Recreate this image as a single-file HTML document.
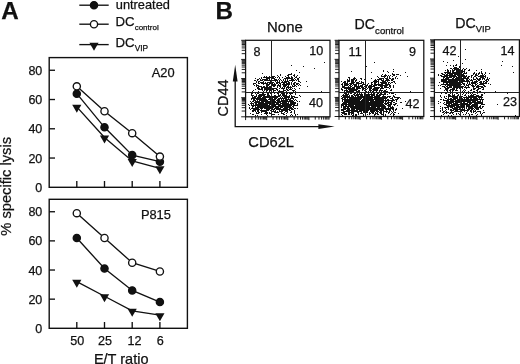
<!DOCTYPE html>
<html><head><meta charset="utf-8"><title>Figure</title>
<style>html,body{margin:0;padding:0;background:#fff;}body{width:520px;height:364px;overflow:hidden;}svg{display:block;}text{font-family:"Liberation Sans",sans-serif;fill:#111;stroke:#111;stroke-width:0.25px;}</style>
</head><body>
<svg width="520" height="364" viewBox="0 0 520 364">
<rect width="520" height="364" fill="#fff"/>
<text x="1.3" y="18.75" font-size="24.2" font-weight="bold" stroke-width="0.7">A</text>
<text x="215.6" y="18.7" font-size="24.2" font-weight="bold" stroke-width="0.7">B</text>
<line x1="79.3" y1="5.2" x2="108.7" y2="5.2" stroke="#111" stroke-width="1.35"/>
<circle cx="94.00" cy="5.20" r="3.6" fill="#111" stroke="#111" stroke-width="1.35"/>
<line x1="79.3" y1="24.2" x2="108.7" y2="24.2" stroke="#111" stroke-width="1.35"/>
<circle cx="94.00" cy="24.20" r="3.6" fill="#fff" stroke="#111" stroke-width="1.35"/>
<line x1="79.3" y1="44.6" x2="108.7" y2="44.6" stroke="#111" stroke-width="1.35"/>
<polygon points="89.40,42.63 98.60,42.63 94.00,50.63" fill="#111"/>
<text x="115.8" y="8.9" font-size="12.8">untreated</text>
<text x="115.6" y="26.4" font-size="13.2">DC<tspan font-size="8.0" dy="3.9">control</tspan></text>
<text x="115.6" y="46.8" font-size="13.2">DC<tspan font-size="8.4" dy="4.3">VIP</tspan></text>
<rect x="49.2" y="57.6" width="138.2" height="129.70000000000002" fill="none" stroke="#111" stroke-width="1.4"/>
<line x1="49.2" y1="158.04" x2="55.0" y2="158.04" stroke="#111" stroke-width="1.35"/>
<line x1="49.2" y1="128.78" x2="55.0" y2="128.78" stroke="#111" stroke-width="1.35"/>
<line x1="49.2" y1="99.52" x2="55.0" y2="99.52" stroke="#111" stroke-width="1.35"/>
<line x1="49.2" y1="70.26" x2="55.0" y2="70.26" stroke="#111" stroke-width="1.35"/>
<text x="42.3" y="191.80" font-size="12.5" text-anchor="end">0</text>
<text x="42.3" y="162.54" font-size="12.5" text-anchor="end">20</text>
<text x="42.3" y="133.28" font-size="12.5" text-anchor="end">40</text>
<text x="42.3" y="104.02" font-size="12.5" text-anchor="end">60</text>
<text x="42.3" y="74.76" font-size="12.5" text-anchor="end">80</text>
<line x1="76.8" y1="187.3" x2="76.8" y2="181.0" stroke="#111" stroke-width="1.35"/>
<line x1="104.5" y1="187.3" x2="104.5" y2="181.0" stroke="#111" stroke-width="1.35"/>
<line x1="132.2" y1="187.3" x2="132.2" y2="181.0" stroke="#111" stroke-width="1.35"/>
<line x1="159.9" y1="187.3" x2="159.9" y2="181.0" stroke="#111" stroke-width="1.35"/>
<text x="174.6" y="77.40" font-size="12.85" text-anchor="end">A20</text>
<polyline points="76.80,106.84 104.50,137.56 132.20,160.97 159.90,168.28" fill="none" stroke="#111" stroke-width="1.35"/>
<polyline points="76.80,93.67 104.50,127.32 132.20,155.11 159.90,161.70" fill="none" stroke="#111" stroke-width="1.35"/>
<polyline points="76.80,86.35 104.50,111.22 132.20,133.17 159.90,156.58" fill="none" stroke="#111" stroke-width="1.35"/>
<polygon points="72.20,104.87 81.40,104.87 76.80,112.87" fill="#111"/>
<polygon points="99.90,135.59 109.10,135.59 104.50,143.59" fill="#111"/>
<polygon points="127.60,159.00 136.80,159.00 132.20,167.00" fill="#111"/>
<polygon points="155.30,166.31 164.50,166.31 159.90,174.31" fill="#111"/>
<circle cx="76.80" cy="93.67" r="3.6" fill="#111" stroke="#111" stroke-width="1.35"/>
<circle cx="104.50" cy="127.32" r="3.6" fill="#111" stroke="#111" stroke-width="1.35"/>
<circle cx="132.20" cy="155.11" r="3.6" fill="#111" stroke="#111" stroke-width="1.35"/>
<circle cx="159.90" cy="161.70" r="3.6" fill="#111" stroke="#111" stroke-width="1.35"/>
<circle cx="76.80" cy="86.35" r="3.6" fill="#fff" stroke="#111" stroke-width="1.35"/>
<circle cx="104.50" cy="111.22" r="3.6" fill="#fff" stroke="#111" stroke-width="1.35"/>
<circle cx="132.20" cy="133.17" r="3.6" fill="#fff" stroke="#111" stroke-width="1.35"/>
<circle cx="159.90" cy="156.58" r="3.6" fill="#fff" stroke="#111" stroke-width="1.35"/>
<rect x="49.2" y="199.3" width="138.2" height="129.0" fill="none" stroke="#111" stroke-width="1.4"/>
<line x1="49.2" y1="299.16" x2="55.0" y2="299.16" stroke="#111" stroke-width="1.35"/>
<line x1="49.2" y1="270.02" x2="55.0" y2="270.02" stroke="#111" stroke-width="1.35"/>
<line x1="49.2" y1="240.88" x2="55.0" y2="240.88" stroke="#111" stroke-width="1.35"/>
<line x1="49.2" y1="211.74" x2="55.0" y2="211.74" stroke="#111" stroke-width="1.35"/>
<text x="42.3" y="332.80" font-size="12.5" text-anchor="end">0</text>
<text x="42.3" y="303.66" font-size="12.5" text-anchor="end">20</text>
<text x="42.3" y="274.52" font-size="12.5" text-anchor="end">40</text>
<text x="42.3" y="245.38" font-size="12.5" text-anchor="end">60</text>
<text x="42.3" y="216.24" font-size="12.5" text-anchor="end">80</text>
<line x1="76.8" y1="328.3" x2="76.8" y2="322.0" stroke="#111" stroke-width="1.35"/>
<line x1="104.5" y1="328.3" x2="104.5" y2="322.0" stroke="#111" stroke-width="1.35"/>
<line x1="132.2" y1="328.3" x2="132.2" y2="322.0" stroke="#111" stroke-width="1.35"/>
<line x1="159.9" y1="328.3" x2="159.9" y2="322.0" stroke="#111" stroke-width="1.35"/>
<text x="170.9" y="218.60" font-size="12.85" text-anchor="end">P815</text>
<polyline points="76.80,281.68 104.50,296.25 132.20,310.82 159.90,315.19" fill="none" stroke="#111" stroke-width="1.35"/>
<polyline points="76.80,237.97 104.50,268.56 132.20,290.42 159.90,302.07" fill="none" stroke="#111" stroke-width="1.35"/>
<polyline points="76.80,213.20 104.50,237.97 132.20,262.74 159.90,271.48" fill="none" stroke="#111" stroke-width="1.35"/>
<polygon points="72.20,279.71 81.40,279.71 76.80,287.71" fill="#111"/>
<polygon points="99.90,294.28 109.10,294.28 104.50,302.28" fill="#111"/>
<polygon points="127.60,308.85 136.80,308.85 132.20,316.85" fill="#111"/>
<polygon points="155.30,313.22 164.50,313.22 159.90,321.22" fill="#111"/>
<circle cx="76.80" cy="237.97" r="3.6" fill="#111" stroke="#111" stroke-width="1.35"/>
<circle cx="104.50" cy="268.56" r="3.6" fill="#111" stroke="#111" stroke-width="1.35"/>
<circle cx="132.20" cy="290.42" r="3.6" fill="#111" stroke="#111" stroke-width="1.35"/>
<circle cx="159.90" cy="302.07" r="3.6" fill="#111" stroke="#111" stroke-width="1.35"/>
<circle cx="76.80" cy="213.20" r="3.6" fill="#fff" stroke="#111" stroke-width="1.35"/>
<circle cx="104.50" cy="237.97" r="3.6" fill="#fff" stroke="#111" stroke-width="1.35"/>
<circle cx="132.20" cy="262.74" r="3.6" fill="#fff" stroke="#111" stroke-width="1.35"/>
<circle cx="159.90" cy="271.48" r="3.6" fill="#fff" stroke="#111" stroke-width="1.35"/>
<text x="77.3" y="344.6" font-size="12.6" text-anchor="middle">50</text>
<text x="104.9" y="344.6" font-size="12.6" text-anchor="middle">25</text>
<text x="134.6" y="344.6" font-size="12.6" text-anchor="middle">12</text>
<text x="160.2" y="344.6" font-size="12.6" text-anchor="middle">6</text>
<text x="121.2" y="363.8" font-size="14.5" text-anchor="middle">E/T ratio</text>
<text transform="translate(11.3,235.7) rotate(-90)" font-size="14.7">% specific lysis</text>
<path d="M324 62.5h1M291 65.5h1M303 66.5h1M314 68.5h1M296 70.5h1M299 72.5h1M262 73.5h1M291 73.5h1M280 74.5h1M288 74.5h1M289 74.5h1M290 74.5h1M291 74.5h1M294 74.5h1M277 75.5h1M280 75.5h1M287 75.5h1M288 75.5h1M293 75.5h1M294 75.5h1M297 75.5h1M264 76.5h1M266 76.5h1M269 76.5h1M272 76.5h1M273 76.5h1M274 76.5h1M278 76.5h1M285 76.5h1M288 76.5h1M291 76.5h1M294 76.5h1M296 76.5h1M261 77.5h1M263 77.5h1M264 77.5h1M265 77.5h1M266 77.5h1M267 77.5h1M268 77.5h1M269 77.5h1M270 77.5h1M272 77.5h1M273 77.5h1M275 77.5h1M277 77.5h1M279 77.5h1M282 77.5h1M286 77.5h1M287 77.5h1M288 77.5h1M289 77.5h1M291 77.5h1M292 77.5h1M295 77.5h1M296 77.5h1M299 77.5h1M255 78.5h1M259 78.5h1M261 78.5h1M266 78.5h1M267 78.5h1M268 78.5h1M269 78.5h1M271 78.5h1M272 78.5h1M273 78.5h1M274 78.5h1M279 78.5h1M284 78.5h1M285 78.5h1M286 78.5h1M287 78.5h1M288 78.5h1M289 78.5h1M290 78.5h1M291 78.5h1M292 78.5h1M294 78.5h1M297 78.5h1M298 78.5h1M257 79.5h1M258 79.5h1M260 79.5h1M262 79.5h1M263 79.5h1M264 79.5h1M265 79.5h1M266 79.5h1M267 79.5h1M269 79.5h1M271 79.5h1M274 79.5h1M275 79.5h1M276 79.5h1M278 79.5h1M280 79.5h1M283 79.5h1M285 79.5h1M287 79.5h1M291 79.5h1M292 79.5h1M293 79.5h1M295 79.5h1M297 79.5h1M298 79.5h1M254 80.5h1M255 80.5h1M257 80.5h1M260 80.5h1M261 80.5h1M262 80.5h1M264 80.5h1M265 80.5h1M266 80.5h1M267 80.5h1M268 80.5h1M269 80.5h1M270 80.5h1M271 80.5h1M272 80.5h1M273 80.5h1M274 80.5h1M275 80.5h1M276 80.5h1M277 80.5h1M279 80.5h1M281 80.5h1M283 80.5h1M285 80.5h1M287 80.5h1M289 80.5h1M290 80.5h1M291 80.5h1M292 80.5h1M293 80.5h1M294 80.5h1M296 80.5h1M298 80.5h1M256 81.5h1M258 81.5h1M259 81.5h1M263 81.5h1M270 81.5h1M271 81.5h1M275 81.5h1M277 81.5h1M279 81.5h1M282 81.5h1M284 81.5h1M285 81.5h1M286 81.5h1M287 81.5h1M288 81.5h1M292 81.5h1M298 81.5h1M299 81.5h1M306 81.5h1M256 82.5h1M258 82.5h1M260 82.5h1M261 82.5h1M262 82.5h1M263 82.5h1M265 82.5h1M267 82.5h1M268 82.5h1M269 82.5h1M270 82.5h1M272 82.5h1M273 82.5h1M276 82.5h1M277 82.5h1M278 82.5h1M279 82.5h1M281 82.5h1M282 82.5h1M283 82.5h1M284 82.5h1M285 82.5h1M286 82.5h1M288 82.5h1M289 82.5h1M291 82.5h1M294 82.5h1M295 82.5h1M300 82.5h1M253 83.5h1M254 83.5h1M255 83.5h1M258 83.5h1M259 83.5h1M261 83.5h1M262 83.5h1M263 83.5h1M264 83.5h1M265 83.5h1M266 83.5h1M267 83.5h1M269 83.5h1M270 83.5h1M272 83.5h1M274 83.5h1M276 83.5h1M277 83.5h1M279 83.5h1M280 83.5h1M283 83.5h1M284 83.5h1M286 83.5h1M287 83.5h1M288 83.5h1M289 83.5h1M291 83.5h1M293 83.5h1M294 83.5h1M296 83.5h1M297 83.5h1M298 83.5h1M253 84.5h1M256 84.5h1M263 84.5h1M266 84.5h1M267 84.5h1M268 84.5h1M269 84.5h1M271 84.5h1M272 84.5h1M273 84.5h1M274 84.5h1M275 84.5h1M278 84.5h1M280 84.5h1M282 84.5h1M283 84.5h1M284 84.5h1M285 84.5h1M286 84.5h1M287 84.5h1M288 84.5h1M289 84.5h1M291 84.5h1M293 84.5h1M294 84.5h1M296 84.5h1M297 84.5h1M299 84.5h1M254 85.5h1M256 85.5h1M257 85.5h1M258 85.5h1M266 85.5h1M267 85.5h1M268 85.5h1M271 85.5h1M272 85.5h1M273 85.5h1M274 85.5h1M275 85.5h1M277 85.5h1M278 85.5h1M279 85.5h1M280 85.5h1M283 85.5h1M284 85.5h1M285 85.5h1M286 85.5h1M288 85.5h1M292 85.5h1M294 85.5h1M295 85.5h1M298 85.5h1M300 85.5h1M256 86.5h1M258 86.5h1M259 86.5h1M260 86.5h1M261 86.5h1M263 86.5h1M264 86.5h1M266 86.5h1M267 86.5h1M269 86.5h1M270 86.5h1M271 86.5h1M273 86.5h1M274 86.5h1M277 86.5h1M279 86.5h1M280 86.5h1M283 86.5h1M284 86.5h1M285 86.5h1M287 86.5h1M288 86.5h1M290 86.5h1M292 86.5h1M293 86.5h1M294 86.5h1M296 86.5h1M307 86.5h1M257 87.5h1M258 87.5h1M261 87.5h1M262 87.5h1M263 87.5h1M264 87.5h1M265 87.5h1M266 87.5h1M267 87.5h1M268 87.5h1M269 87.5h1M270 87.5h1M277 87.5h1M280 87.5h1M282 87.5h1M284 87.5h1M286 87.5h1M287 87.5h1M288 87.5h1M289 87.5h1M290 87.5h1M291 87.5h1M257 88.5h1M258 88.5h1M259 88.5h1M261 88.5h1M262 88.5h1M264 88.5h1M265 88.5h1M266 88.5h1M267 88.5h1M268 88.5h1M269 88.5h1M270 88.5h1M271 88.5h1M272 88.5h1M273 88.5h1M274 88.5h1M275 88.5h1M276 88.5h1M279 88.5h1M281 88.5h1M282 88.5h1M283 88.5h1M284 88.5h1M286 88.5h1M288 88.5h1M290 88.5h1M292 88.5h1M294 88.5h1M299 88.5h1M255 89.5h1M258 89.5h1M259 89.5h1M260 89.5h1M261 89.5h1M262 89.5h1M264 89.5h1M265 89.5h1M266 89.5h1M267 89.5h1M268 89.5h1M269 89.5h1M270 89.5h1M271 89.5h1M272 89.5h1M273 89.5h1M276 89.5h1M277 89.5h1M283 89.5h1M286 89.5h1M287 89.5h1M289 89.5h1M290 89.5h1M291 89.5h1M295 89.5h1M253 90.5h1M262 90.5h1M264 90.5h1M266 90.5h1M267 90.5h1M269 90.5h1M270 90.5h1M271 90.5h1M273 90.5h1M274 90.5h1M275 90.5h1M277 90.5h1M279 90.5h1M283 90.5h1M284 90.5h1M285 90.5h1M287 90.5h1M288 90.5h1M292 90.5h1M293 90.5h1M294 90.5h1M252 91.5h1M258 91.5h1M263 91.5h1M266 91.5h1M269 91.5h1M273 91.5h1M278 91.5h1M279 91.5h1M280 91.5h1M281 91.5h1M282 91.5h1M283 91.5h1M286 91.5h1M293 91.5h1M295 91.5h1M321 91.5h1M255 92.5h1M256 92.5h1M257 92.5h1M258 92.5h1M261 92.5h1M264 92.5h1M266 92.5h1M269 92.5h1M270 92.5h1M274 92.5h1M277 92.5h1M279 92.5h1M283 92.5h1M284 92.5h1M287 92.5h1M288 92.5h1M290 92.5h1M292 92.5h1M297 92.5h1M251 93.5h1M252 93.5h1M255 93.5h1M257 93.5h1M258 93.5h1M262 93.5h1M263 93.5h1M267 93.5h1M268 93.5h1M270 93.5h1M271 93.5h1M274 93.5h1M277 93.5h1M278 93.5h1M281 93.5h1M282 93.5h1M283 93.5h1M284 93.5h1M286 93.5h1M287 93.5h1M289 93.5h1M290 93.5h1M291 93.5h1M292 93.5h1M295 93.5h1M251 94.5h1M256 94.5h1M259 94.5h1M260 94.5h1M261 94.5h1M262 94.5h1M263 94.5h1M264 94.5h1M265 94.5h1M267 94.5h1M268 94.5h1M271 94.5h1M278 94.5h1M280 94.5h1M282 94.5h1M283 94.5h1M284 94.5h1M286 94.5h1M290 94.5h1M295 94.5h1M251 95.5h1M252 95.5h1M253 95.5h1M256 95.5h1M258 95.5h1M259 95.5h1M260 95.5h1M261 95.5h1M262 95.5h1M263 95.5h1M264 95.5h1M267 95.5h1M268 95.5h1M269 95.5h1M271 95.5h1M274 95.5h1M275 95.5h1M278 95.5h1M279 95.5h1M280 95.5h1M282 95.5h1M283 95.5h1M284 95.5h1M285 95.5h1M286 95.5h1M289 95.5h1M291 95.5h1M299 95.5h1M252 96.5h1M254 96.5h1M255 96.5h1M256 96.5h1M258 96.5h1M259 96.5h1M260 96.5h1M261 96.5h1M263 96.5h1M264 96.5h1M265 96.5h1M266 96.5h1M267 96.5h1M268 96.5h1M269 96.5h1M270 96.5h1M271 96.5h1M272 96.5h1M273 96.5h1M274 96.5h1M275 96.5h1M276 96.5h1M277 96.5h1M278 96.5h1M279 96.5h1M281 96.5h1M283 96.5h1M284 96.5h1M285 96.5h1M286 96.5h1M287 96.5h1M288 96.5h1M289 96.5h1M291 96.5h1M292 96.5h1M293 96.5h1M294 96.5h1M300 96.5h1M252 97.5h1M253 97.5h1M254 97.5h1M255 97.5h1M257 97.5h1M258 97.5h1M259 97.5h1M260 97.5h1M262 97.5h1M263 97.5h1M264 97.5h1M265 97.5h1M266 97.5h1M267 97.5h1M268 97.5h1M269 97.5h1M270 97.5h1M271 97.5h1M272 97.5h1M273 97.5h1M274 97.5h1M275 97.5h1M276 97.5h1M277 97.5h1M280 97.5h1M282 97.5h1M284 97.5h1M285 97.5h1M286 97.5h1M287 97.5h1M288 97.5h1M289 97.5h1M291 97.5h1M292 97.5h1M294 97.5h1M295 97.5h1M296 97.5h1M297 97.5h1M251 98.5h1M252 98.5h1M253 98.5h1M254 98.5h1M255 98.5h1M256 98.5h1M257 98.5h1M258 98.5h1M259 98.5h1M260 98.5h1M261 98.5h1M262 98.5h1M263 98.5h1M264 98.5h1M265 98.5h1M269 98.5h1M270 98.5h1M271 98.5h1M272 98.5h1M274 98.5h1M275 98.5h1M276 98.5h1M278 98.5h1M279 98.5h1M280 98.5h1M281 98.5h1M282 98.5h1M283 98.5h1M284 98.5h1M285 98.5h1M286 98.5h1M288 98.5h1M290 98.5h1M291 98.5h1M292 98.5h1M293 98.5h1M251 99.5h1M253 99.5h1M254 99.5h1M256 99.5h1M257 99.5h1M258 99.5h1M259 99.5h1M260 99.5h1M261 99.5h1M262 99.5h1M263 99.5h1M264 99.5h1M265 99.5h1M266 99.5h1M268 99.5h1M269 99.5h1M270 99.5h1M271 99.5h1M272 99.5h1M273 99.5h1M274 99.5h1M275 99.5h1M277 99.5h1M278 99.5h1M279 99.5h1M281 99.5h1M283 99.5h1M285 99.5h1M286 99.5h1M287 99.5h1M288 99.5h1M289 99.5h1M290 99.5h1M293 99.5h1M295 99.5h1M253 100.5h1M254 100.5h1M255 100.5h1M257 100.5h1M259 100.5h1M260 100.5h1M261 100.5h1M262 100.5h1M263 100.5h1M264 100.5h1M265 100.5h1M266 100.5h1M267 100.5h1M270 100.5h1M271 100.5h1M272 100.5h1M273 100.5h1M274 100.5h1M276 100.5h1M277 100.5h1M278 100.5h1M279 100.5h1M281 100.5h1M282 100.5h1M283 100.5h1M284 100.5h1M285 100.5h1M286 100.5h1M287 100.5h1M289 100.5h1M290 100.5h1M291 100.5h1M292 100.5h1M294 100.5h1M296 100.5h1M250 101.5h1M252 101.5h1M253 101.5h1M255 101.5h1M256 101.5h1M257 101.5h1M258 101.5h1M259 101.5h1M261 101.5h1M262 101.5h1M263 101.5h1M264 101.5h1M265 101.5h1M266 101.5h1M267 101.5h1M268 101.5h1M269 101.5h1M270 101.5h1M272 101.5h1M273 101.5h1M274 101.5h1M275 101.5h1M277 101.5h1M278 101.5h1M279 101.5h1M280 101.5h1M281 101.5h1M282 101.5h1M283 101.5h1M284 101.5h1M285 101.5h1M286 101.5h1M287 101.5h1M288 101.5h1M289 101.5h1M290 101.5h1M291 101.5h1M292 101.5h1M293 101.5h1M297 101.5h1M299 101.5h1M251 102.5h1M254 102.5h1M255 102.5h1M256 102.5h1M257 102.5h1M258 102.5h1M259 102.5h1M260 102.5h1M261 102.5h1M262 102.5h1M263 102.5h1M265 102.5h1M266 102.5h1M267 102.5h1M268 102.5h1M269 102.5h1M270 102.5h1M271 102.5h1M272 102.5h1M273 102.5h1M274 102.5h1M275 102.5h1M276 102.5h1M277 102.5h1M278 102.5h1M279 102.5h1M280 102.5h1M282 102.5h1M283 102.5h1M284 102.5h1M285 102.5h1M286 102.5h1M288 102.5h1M290 102.5h1M291 102.5h1M292 102.5h1M293 102.5h1M294 102.5h1M295 102.5h1M250 103.5h1M251 103.5h1M252 103.5h1M253 103.5h1M255 103.5h1M256 103.5h1M258 103.5h1M259 103.5h1M260 103.5h1M261 103.5h1M262 103.5h1M263 103.5h1M264 103.5h1M265 103.5h1M266 103.5h1M267 103.5h1M268 103.5h1M269 103.5h1M270 103.5h1M271 103.5h1M272 103.5h1M273 103.5h1M274 103.5h1M276 103.5h1M277 103.5h1M278 103.5h1M280 103.5h1M281 103.5h1M282 103.5h1M283 103.5h1M284 103.5h1M285 103.5h1M286 103.5h1M287 103.5h1M288 103.5h1M290 103.5h1M291 103.5h1M292 103.5h1M293 103.5h1M294 103.5h1M295 103.5h1M297 103.5h1M248 104.5h1M251 104.5h1M253 104.5h1M255 104.5h1M256 104.5h1M257 104.5h1M258 104.5h1M259 104.5h1M260 104.5h1M261 104.5h1M262 104.5h1M263 104.5h1M264 104.5h1M265 104.5h1M266 104.5h1M267 104.5h1M269 104.5h1M270 104.5h1M271 104.5h1M272 104.5h1M273 104.5h1M274 104.5h1M275 104.5h1M276 104.5h1M277 104.5h1M278 104.5h1M279 104.5h1M280 104.5h1M282 104.5h1M283 104.5h1M284 104.5h1M285 104.5h1M286 104.5h1M287 104.5h1M288 104.5h1M289 104.5h1M290 104.5h1M291 104.5h1M292 104.5h1M293 104.5h1M294 104.5h1M297 104.5h1M249 105.5h1M251 105.5h1M252 105.5h1M253 105.5h1M254 105.5h1M255 105.5h1M256 105.5h1M257 105.5h1M258 105.5h1M259 105.5h1M260 105.5h1M261 105.5h1M262 105.5h1M263 105.5h1M264 105.5h1M265 105.5h1M266 105.5h1M267 105.5h1M268 105.5h1M269 105.5h1M271 105.5h1M272 105.5h1M273 105.5h1M274 105.5h1M275 105.5h1M278 105.5h1M279 105.5h1M280 105.5h1M281 105.5h1M282 105.5h1M283 105.5h1M284 105.5h1M285 105.5h1M286 105.5h1M287 105.5h1M288 105.5h1M289 105.5h1M290 105.5h1M291 105.5h1M293 105.5h1M294 105.5h1M295 105.5h1M296 105.5h1M297 105.5h1M252 106.5h1M253 106.5h1M255 106.5h1M257 106.5h1M258 106.5h1M259 106.5h1M260 106.5h1M261 106.5h1M262 106.5h1M263 106.5h1M264 106.5h1M265 106.5h1M266 106.5h1M267 106.5h1M268 106.5h1M269 106.5h1M270 106.5h1M271 106.5h1M272 106.5h1M273 106.5h1M274 106.5h1M275 106.5h1M276 106.5h1M277 106.5h1M278 106.5h1M279 106.5h1M280 106.5h1M281 106.5h1M282 106.5h1M283 106.5h1M284 106.5h1M285 106.5h1M286 106.5h1M287 106.5h1M288 106.5h1M289 106.5h1M290 106.5h1M292 106.5h1M293 106.5h1M249 107.5h1M252 107.5h1M255 107.5h1M256 107.5h1M257 107.5h1M258 107.5h1M259 107.5h1M260 107.5h1M261 107.5h1M262 107.5h1M263 107.5h1M264 107.5h1M265 107.5h1M266 107.5h1M267 107.5h1M268 107.5h1M269 107.5h1M270 107.5h1M271 107.5h1M272 107.5h1M273 107.5h1M275 107.5h1M276 107.5h1M277 107.5h1M278 107.5h1M280 107.5h1M281 107.5h1M282 107.5h1M284 107.5h1M285 107.5h1M286 107.5h1M287 107.5h1M288 107.5h1M289 107.5h1M290 107.5h1M291 107.5h1M293 107.5h1M249 108.5h1M251 108.5h1M252 108.5h1M253 108.5h1M254 108.5h1M255 108.5h1M256 108.5h1M257 108.5h1M258 108.5h1M260 108.5h1M261 108.5h1M262 108.5h1M264 108.5h1M265 108.5h1M266 108.5h1M267 108.5h1M268 108.5h1M269 108.5h1M270 108.5h1M271 108.5h1M272 108.5h1M274 108.5h1M275 108.5h1M276 108.5h1M277 108.5h1M278 108.5h1M279 108.5h1M280 108.5h1M283 108.5h1M284 108.5h1M285 108.5h1M286 108.5h1M287 108.5h1M289 108.5h1M290 108.5h1M291 108.5h1M292 108.5h1M294 108.5h1M295 108.5h1M297 108.5h1M250 109.5h1M253 109.5h1M254 109.5h1M255 109.5h1M256 109.5h1M257 109.5h1M258 109.5h1M259 109.5h1M261 109.5h1M266 109.5h1M267 109.5h1M268 109.5h1M269 109.5h1M271 109.5h1M272 109.5h1M273 109.5h1M274 109.5h1M276 109.5h1M277 109.5h1M278 109.5h1M279 109.5h1M280 109.5h1M281 109.5h1M282 109.5h1M283 109.5h1M284 109.5h1M285 109.5h1M286 109.5h1M287 109.5h1M288 109.5h1M289 109.5h1M291 109.5h1M292 109.5h1M293 109.5h1M252 110.5h1M253 110.5h1M254 110.5h1M255 110.5h1M257 110.5h1M258 110.5h1M260 110.5h1M261 110.5h1M262 110.5h1M263 110.5h1M264 110.5h1M265 110.5h1M266 110.5h1M267 110.5h1M268 110.5h1M270 110.5h1M273 110.5h1M275 110.5h1M279 110.5h1M281 110.5h1M282 110.5h1M283 110.5h1M284 110.5h1M285 110.5h1M286 110.5h1M287 110.5h1M289 110.5h1M290 110.5h1M294 110.5h1M252 111.5h1M253 111.5h1M255 111.5h1M257 111.5h1M258 111.5h1M261 111.5h1M262 111.5h1M263 111.5h1M264 111.5h1M265 111.5h1M266 111.5h1M271 111.5h1M272 111.5h1M273 111.5h1M274 111.5h1M275 111.5h1M277 111.5h1M279 111.5h1M280 111.5h1M281 111.5h1M282 111.5h1M285 111.5h1M286 111.5h1M287 111.5h1M291 111.5h1M294 111.5h1M256 112.5h1M258 112.5h1M259 112.5h1M261 112.5h1M265 112.5h1M266 112.5h1M267 112.5h1M269 112.5h1M271 112.5h1M274 112.5h1M275 112.5h1M276 112.5h1M277 112.5h1M278 112.5h1M281 112.5h1M284 112.5h1M287 112.5h1M290 112.5h1M291 112.5h1M294 112.5h1M250 113.5h1M256 113.5h1M257 113.5h1M258 113.5h1M264 113.5h1M265 113.5h1M266 113.5h1M267 113.5h1M269 113.5h1M270 113.5h1M271 113.5h1M281 113.5h1M282 113.5h1M283 113.5h1M286 113.5h1M294 113.5h1M252 114.5h1M253 114.5h1M261 114.5h1M266 114.5h1M272 114.5h1M273 114.5h1M274 114.5h1M278 114.5h1M283 114.5h1M284 114.5h1M291 114.5h1M295 114.5h1M297 114.5h1M255 115.5h1M257 115.5h1M267 115.5h1M271 115.5h1M286 115.5h1M290 115.5h1M292 115.5h1M295 115.5h1" stroke="#111" stroke-width="1" fill="none" shape-rendering="crispEdges"/>
<path d="M245.6 116.80h-4.4M245.60 116.8v3.3000000000000003M245.6 111.04h-3.9M251.95 116.8v2.8M245.6 107.68h-3.9M255.67 116.8v2.8M245.6 105.29h-3.9M258.30 116.8v2.8M245.6 103.43h-3.9M260.35 116.8v2.8M245.6 101.92h-3.9M262.02 116.8v2.8M245.6 100.64h-3.9M263.43 116.8v2.8M245.6 99.53h-3.9M264.66 116.8v2.8M245.6 98.55h-3.9M265.73 116.8v2.8M245.6 97.67h-4.4M266.70 116.8v3.3000000000000003M245.6 91.92h-3.9M273.05 116.8v2.8M245.6 88.55h-3.9M276.77 116.8v2.8M245.6 86.16h-3.9M279.40 116.8v2.8M245.6 84.31h-3.9M281.45 116.8v2.8M245.6 82.79h-3.9M283.12 116.8v2.8M245.6 81.51h-3.9M284.53 116.8v2.8M245.6 80.40h-3.9M285.76 116.8v2.8M245.6 79.43h-3.9M286.83 116.8v2.8M245.6 78.55h-4.4M287.80 116.8v3.3000000000000003M245.6 72.79h-3.9M294.15 116.8v2.8M245.6 69.43h-3.9M297.87 116.8v2.8M245.6 67.04h-3.9M300.50 116.8v2.8M245.6 65.18h-3.9M302.55 116.8v2.8M245.6 63.67h-3.9M304.22 116.8v2.8M245.6 62.39h-3.9M305.63 116.8v2.8M245.6 61.28h-3.9M306.86 116.8v2.8M245.6 60.30h-3.9M307.93 116.8v2.8M245.6 59.42h-4.4M308.90 116.8v3.3000000000000003M245.6 53.67h-3.9M315.25 116.8v2.8M245.6 50.30h-3.9M318.97 116.8v2.8M245.6 47.91h-3.9M321.60 116.8v2.8M245.6 46.06h-3.9M323.65 116.8v2.8M245.6 44.54h-3.9M325.32 116.8v2.8M245.6 43.26h-3.9M326.73 116.8v2.8M245.6 42.15h-3.9M327.96 116.8v2.8M245.6 41.18h-3.9M329.03 116.8v2.8M245.6 40.3h-4.4" stroke="#111" stroke-width="0.95" fill="none"/>
<rect x="245.6" y="40.3" width="84.4" height="76.5" fill="none" stroke="#111" stroke-width="1.25"/>
<line x1="271.5" y1="40.3" x2="271.5" y2="116.8" stroke="#222" stroke-width="1" shape-rendering="crispEdges"/>
<line x1="245.6" y1="92.5" x2="330.0" y2="92.5" stroke="#222" stroke-width="1" shape-rendering="crispEdges"/>
<text x="253.5" y="55.9" font-size="12.6" text-anchor="start">8</text>
<text x="323.2" y="54.9" font-size="12.6" text-anchor="end">10</text>
<text x="323" y="107" font-size="12.6" text-anchor="end">40</text>
<path d="M374 62.5h1M366 66.5h1M393 69.5h1M383 70.5h1M351 71.5h1M383 71.5h1M387 71.5h1M393 71.5h1M371 72.5h1M388 72.5h1M405 72.5h1M392 73.5h1M382 74.5h1M385 74.5h1M392 74.5h1M393 74.5h1M394 74.5h1M396 74.5h1M397 74.5h1M398 74.5h1M381 75.5h1M384 75.5h1M385 75.5h1M386 75.5h1M388 75.5h1M390 75.5h1M393 75.5h1M394 75.5h1M400 75.5h1M377 76.5h1M381 76.5h1M382 76.5h1M383 76.5h1M384 76.5h1M385 76.5h1M387 76.5h1M389 76.5h1M392 76.5h1M396 76.5h1M407 76.5h1M348 77.5h1M349 77.5h1M354 77.5h1M378 77.5h1M384 77.5h1M387 77.5h1M389 77.5h1M395 77.5h1M349 78.5h1M353 78.5h1M354 78.5h1M355 78.5h1M360 78.5h1M361 78.5h1M371 78.5h1M379 78.5h1M380 78.5h1M381 78.5h1M382 78.5h1M383 78.5h1M385 78.5h1M386 78.5h1M387 78.5h1M389 78.5h1M390 78.5h1M392 78.5h1M393 78.5h1M395 78.5h1M397 78.5h1M347 79.5h1M349 79.5h1M351 79.5h1M352 79.5h1M353 79.5h1M354 79.5h1M356 79.5h1M361 79.5h1M364 79.5h1M375 79.5h1M377 79.5h1M378 79.5h1M379 79.5h1M380 79.5h1M381 79.5h1M383 79.5h1M386 79.5h1M387 79.5h1M388 79.5h1M391 79.5h1M392 79.5h1M393 79.5h1M347 80.5h1M348 80.5h1M349 80.5h1M351 80.5h1M352 80.5h1M353 80.5h1M355 80.5h1M356 80.5h1M374 80.5h1M375 80.5h1M376 80.5h1M378 80.5h1M381 80.5h1M382 80.5h1M383 80.5h1M385 80.5h1M386 80.5h1M387 80.5h1M388 80.5h1M389 80.5h1M391 80.5h1M392 80.5h1M341 81.5h1M344 81.5h1M345 81.5h1M347 81.5h1M348 81.5h1M349 81.5h1M351 81.5h1M352 81.5h1M353 81.5h1M355 81.5h1M359 81.5h1M361 81.5h1M373 81.5h1M374 81.5h1M375 81.5h1M376 81.5h1M377 81.5h1M378 81.5h1M382 81.5h1M383 81.5h1M384 81.5h1M385 81.5h1M387 81.5h1M393 81.5h1M394 81.5h1M343 82.5h1M344 82.5h1M345 82.5h1M347 82.5h1M351 82.5h1M352 82.5h1M353 82.5h1M354 82.5h1M356 82.5h1M357 82.5h1M358 82.5h1M361 82.5h1M362 82.5h1M363 82.5h1M371 82.5h1M372 82.5h1M374 82.5h1M375 82.5h1M376 82.5h1M378 82.5h1M380 82.5h1M381 82.5h1M382 82.5h1M383 82.5h1M384 82.5h1M385 82.5h1M386 82.5h1M388 82.5h1M389 82.5h1M391 82.5h1M392 82.5h1M394 82.5h1M342 83.5h1M344 83.5h1M345 83.5h1M346 83.5h1M347 83.5h1M349 83.5h1M350 83.5h1M351 83.5h1M352 83.5h1M353 83.5h1M356 83.5h1M357 83.5h1M358 83.5h1M359 83.5h1M360 83.5h1M361 83.5h1M363 83.5h1M368 83.5h1M371 83.5h1M374 83.5h1M375 83.5h1M378 83.5h1M381 83.5h1M382 83.5h1M383 83.5h1M384 83.5h1M385 83.5h1M386 83.5h1M388 83.5h1M390 83.5h1M395 83.5h1M341 84.5h1M342 84.5h1M344 84.5h1M345 84.5h1M346 84.5h1M347 84.5h1M348 84.5h1M350 84.5h1M351 84.5h1M353 84.5h1M354 84.5h1M355 84.5h1M356 84.5h1M358 84.5h1M362 84.5h1M363 84.5h1M364 84.5h1M365 84.5h1M367 84.5h1M371 84.5h1M372 84.5h1M374 84.5h1M375 84.5h1M376 84.5h1M377 84.5h1M378 84.5h1M379 84.5h1M380 84.5h1M381 84.5h1M382 84.5h1M385 84.5h1M386 84.5h1M387 84.5h1M388 84.5h1M389 84.5h1M342 85.5h1M344 85.5h1M345 85.5h1M346 85.5h1M347 85.5h1M349 85.5h1M350 85.5h1M352 85.5h1M354 85.5h1M355 85.5h1M356 85.5h1M358 85.5h1M360 85.5h1M361 85.5h1M362 85.5h1M366 85.5h1M367 85.5h1M369 85.5h1M370 85.5h1M371 85.5h1M373 85.5h1M374 85.5h1M375 85.5h1M376 85.5h1M378 85.5h1M379 85.5h1M380 85.5h1M381 85.5h1M382 85.5h1M383 85.5h1M384 85.5h1M385 85.5h1M386 85.5h1M387 85.5h1M389 85.5h1M390 85.5h1M393 85.5h1M342 86.5h1M343 86.5h1M344 86.5h1M348 86.5h1M350 86.5h1M351 86.5h1M354 86.5h1M355 86.5h1M356 86.5h1M357 86.5h1M358 86.5h1M359 86.5h1M360 86.5h1M361 86.5h1M362 86.5h1M364 86.5h1M365 86.5h1M366 86.5h1M368 86.5h1M369 86.5h1M370 86.5h1M371 86.5h1M372 86.5h1M373 86.5h1M374 86.5h1M380 86.5h1M381 86.5h1M382 86.5h1M384 86.5h1M385 86.5h1M386 86.5h1M389 86.5h1M390 86.5h1M393 86.5h1M342 87.5h1M343 87.5h1M344 87.5h1M345 87.5h1M346 87.5h1M347 87.5h1M348 87.5h1M349 87.5h1M350 87.5h1M352 87.5h1M353 87.5h1M354 87.5h1M356 87.5h1M357 87.5h1M358 87.5h1M359 87.5h1M361 87.5h1M362 87.5h1M363 87.5h1M365 87.5h1M366 87.5h1M368 87.5h1M369 87.5h1M370 87.5h1M371 87.5h1M374 87.5h1M375 87.5h1M376 87.5h1M377 87.5h1M378 87.5h1M379 87.5h1M381 87.5h1M382 87.5h1M384 87.5h1M385 87.5h1M386 87.5h1M387 87.5h1M388 87.5h1M390 87.5h1M393 87.5h1M341 88.5h1M344 88.5h1M345 88.5h1M346 88.5h1M347 88.5h1M348 88.5h1M349 88.5h1M350 88.5h1M351 88.5h1M352 88.5h1M353 88.5h1M354 88.5h1M356 88.5h1M357 88.5h1M358 88.5h1M359 88.5h1M360 88.5h1M362 88.5h1M363 88.5h1M364 88.5h1M367 88.5h1M369 88.5h1M370 88.5h1M371 88.5h1M373 88.5h1M374 88.5h1M375 88.5h1M376 88.5h1M377 88.5h1M378 88.5h1M380 88.5h1M381 88.5h1M382 88.5h1M383 88.5h1M389 88.5h1M341 89.5h1M342 89.5h1M346 89.5h1M348 89.5h1M349 89.5h1M350 89.5h1M351 89.5h1M352 89.5h1M353 89.5h1M354 89.5h1M355 89.5h1M356 89.5h1M357 89.5h1M362 89.5h1M363 89.5h1M366 89.5h1M369 89.5h1M370 89.5h1M372 89.5h1M373 89.5h1M374 89.5h1M375 89.5h1M376 89.5h1M377 89.5h1M380 89.5h1M386 89.5h1M391 89.5h1M342 90.5h1M344 90.5h1M345 90.5h1M346 90.5h1M347 90.5h1M349 90.5h1M350 90.5h1M351 90.5h1M352 90.5h1M353 90.5h1M354 90.5h1M355 90.5h1M356 90.5h1M358 90.5h1M359 90.5h1M362 90.5h1M364 90.5h1M365 90.5h1M369 90.5h1M370 90.5h1M371 90.5h1M373 90.5h1M374 90.5h1M375 90.5h1M376 90.5h1M377 90.5h1M379 90.5h1M380 90.5h1M381 90.5h1M382 90.5h1M384 90.5h1M385 90.5h1M390 90.5h1M391 90.5h1M344 91.5h1M346 91.5h1M347 91.5h1M348 91.5h1M349 91.5h1M350 91.5h1M351 91.5h1M352 91.5h1M353 91.5h1M356 91.5h1M357 91.5h1M358 91.5h1M359 91.5h1M365 91.5h1M366 91.5h1M368 91.5h1M370 91.5h1M372 91.5h1M373 91.5h1M376 91.5h1M379 91.5h1M381 91.5h1M383 91.5h1M384 91.5h1M385 91.5h1M386 91.5h1M387 91.5h1M410 91.5h1M346 92.5h1M348 92.5h1M349 92.5h1M350 92.5h1M352 92.5h1M353 92.5h1M355 92.5h1M356 92.5h1M357 92.5h1M358 92.5h1M359 92.5h1M362 92.5h1M364 92.5h1M366 92.5h1M368 92.5h1M370 92.5h1M372 92.5h1M374 92.5h1M381 92.5h1M382 92.5h1M385 92.5h1M394 92.5h1M344 93.5h1M345 93.5h1M346 93.5h1M348 93.5h1M350 93.5h1M351 93.5h1M354 93.5h1M355 93.5h1M357 93.5h1M359 93.5h1M361 93.5h1M364 93.5h1M365 93.5h1M368 93.5h1M371 93.5h1M373 93.5h1M374 93.5h1M377 93.5h1M378 93.5h1M380 93.5h1M381 93.5h1M384 93.5h1M385 93.5h1M389 93.5h1M391 93.5h1M392 93.5h1M393 93.5h1M343 94.5h1M345 94.5h1M346 94.5h1M347 94.5h1M348 94.5h1M353 94.5h1M354 94.5h1M356 94.5h1M357 94.5h1M358 94.5h1M359 94.5h1M360 94.5h1M361 94.5h1M362 94.5h1M364 94.5h1M365 94.5h1M366 94.5h1M367 94.5h1M368 94.5h1M369 94.5h1M370 94.5h1M371 94.5h1M372 94.5h1M373 94.5h1M374 94.5h1M376 94.5h1M377 94.5h1M379 94.5h1M380 94.5h1M381 94.5h1M382 94.5h1M383 94.5h1M384 94.5h1M385 94.5h1M387 94.5h1M395 94.5h1M342 95.5h1M343 95.5h1M344 95.5h1M345 95.5h1M346 95.5h1M347 95.5h1M349 95.5h1M351 95.5h1M352 95.5h1M354 95.5h1M355 95.5h1M356 95.5h1M357 95.5h1M358 95.5h1M360 95.5h1M361 95.5h1M362 95.5h1M364 95.5h1M365 95.5h1M366 95.5h1M367 95.5h1M368 95.5h1M369 95.5h1M371 95.5h1M372 95.5h1M373 95.5h1M374 95.5h1M376 95.5h1M377 95.5h1M378 95.5h1M379 95.5h1M380 95.5h1M383 95.5h1M393 95.5h1M341 96.5h1M343 96.5h1M344 96.5h1M345 96.5h1M346 96.5h1M347 96.5h1M348 96.5h1M349 96.5h1M351 96.5h1M352 96.5h1M353 96.5h1M355 96.5h1M357 96.5h1M358 96.5h1M359 96.5h1M360 96.5h1M361 96.5h1M362 96.5h1M363 96.5h1M364 96.5h1M365 96.5h1M366 96.5h1M367 96.5h1M368 96.5h1M369 96.5h1M370 96.5h1M371 96.5h1M372 96.5h1M374 96.5h1M375 96.5h1M376 96.5h1M377 96.5h1M378 96.5h1M379 96.5h1M382 96.5h1M383 96.5h1M384 96.5h1M385 96.5h1M387 96.5h1M388 96.5h1M389 96.5h1M390 96.5h1M393 96.5h1M394 96.5h1M342 97.5h1M343 97.5h1M344 97.5h1M345 97.5h1M346 97.5h1M347 97.5h1M348 97.5h1M349 97.5h1M350 97.5h1M351 97.5h1M352 97.5h1M353 97.5h1M354 97.5h1M355 97.5h1M356 97.5h1M357 97.5h1M358 97.5h1M359 97.5h1M360 97.5h1M361 97.5h1M362 97.5h1M363 97.5h1M364 97.5h1M365 97.5h1M366 97.5h1M367 97.5h1M368 97.5h1M369 97.5h1M370 97.5h1M371 97.5h1M372 97.5h1M373 97.5h1M374 97.5h1M375 97.5h1M376 97.5h1M377 97.5h1M378 97.5h1M379 97.5h1M380 97.5h1M381 97.5h1M382 97.5h1M383 97.5h1M384 97.5h1M385 97.5h1M386 97.5h1M387 97.5h1M389 97.5h1M392 97.5h1M394 97.5h1M395 97.5h1M396 97.5h1M397 97.5h1M398 97.5h1M399 97.5h1M341 98.5h1M342 98.5h1M344 98.5h1M345 98.5h1M347 98.5h1M349 98.5h1M350 98.5h1M351 98.5h1M352 98.5h1M353 98.5h1M354 98.5h1M355 98.5h1M356 98.5h1M357 98.5h1M358 98.5h1M359 98.5h1M360 98.5h1M361 98.5h1M363 98.5h1M364 98.5h1M365 98.5h1M366 98.5h1M367 98.5h1M368 98.5h1M369 98.5h1M370 98.5h1M371 98.5h1M372 98.5h1M374 98.5h1M375 98.5h1M376 98.5h1M377 98.5h1M378 98.5h1M379 98.5h1M380 98.5h1M381 98.5h1M382 98.5h1M383 98.5h1M384 98.5h1M385 98.5h1M386 98.5h1M390 98.5h1M391 98.5h1M392 98.5h1M397 98.5h1M398 98.5h1M400 98.5h1M342 99.5h1M343 99.5h1M344 99.5h1M345 99.5h1M346 99.5h1M347 99.5h1M348 99.5h1M349 99.5h1M350 99.5h1M351 99.5h1M352 99.5h1M353 99.5h1M354 99.5h1M355 99.5h1M356 99.5h1M357 99.5h1M358 99.5h1M359 99.5h1M360 99.5h1M362 99.5h1M363 99.5h1M364 99.5h1M365 99.5h1M366 99.5h1M367 99.5h1M368 99.5h1M369 99.5h1M370 99.5h1M371 99.5h1M372 99.5h1M373 99.5h1M374 99.5h1M375 99.5h1M376 99.5h1M377 99.5h1M378 99.5h1M379 99.5h1M380 99.5h1M381 99.5h1M382 99.5h1M383 99.5h1M385 99.5h1M387 99.5h1M388 99.5h1M392 99.5h1M393 99.5h1M395 99.5h1M396 99.5h1M397 99.5h1M342 100.5h1M344 100.5h1M345 100.5h1M346 100.5h1M347 100.5h1M348 100.5h1M349 100.5h1M350 100.5h1M351 100.5h1M352 100.5h1M353 100.5h1M354 100.5h1M355 100.5h1M356 100.5h1M357 100.5h1M358 100.5h1M359 100.5h1M361 100.5h1M362 100.5h1M363 100.5h1M364 100.5h1M365 100.5h1M366 100.5h1M367 100.5h1M368 100.5h1M369 100.5h1M370 100.5h1M371 100.5h1M372 100.5h1M373 100.5h1M375 100.5h1M376 100.5h1M377 100.5h1M378 100.5h1M379 100.5h1M380 100.5h1M381 100.5h1M382 100.5h1M383 100.5h1M384 100.5h1M385 100.5h1M386 100.5h1M387 100.5h1M388 100.5h1M389 100.5h1M390 100.5h1M391 100.5h1M392 100.5h1M393 100.5h1M394 100.5h1M396 100.5h1M342 101.5h1M344 101.5h1M345 101.5h1M346 101.5h1M347 101.5h1M348 101.5h1M349 101.5h1M350 101.5h1M351 101.5h1M352 101.5h1M353 101.5h1M354 101.5h1M355 101.5h1M356 101.5h1M357 101.5h1M358 101.5h1M359 101.5h1M360 101.5h1M361 101.5h1M362 101.5h1M363 101.5h1M364 101.5h1M365 101.5h1M366 101.5h1M367 101.5h1M368 101.5h1M370 101.5h1M371 101.5h1M372 101.5h1M373 101.5h1M374 101.5h1M375 101.5h1M376 101.5h1M377 101.5h1M378 101.5h1M379 101.5h1M380 101.5h1M381 101.5h1M382 101.5h1M383 101.5h1M385 101.5h1M386 101.5h1M388 101.5h1M391 101.5h1M392 101.5h1M396 101.5h1M405 101.5h1M343 102.5h1M344 102.5h1M345 102.5h1M346 102.5h1M347 102.5h1M348 102.5h1M349 102.5h1M350 102.5h1M351 102.5h1M352 102.5h1M353 102.5h1M354 102.5h1M355 102.5h1M356 102.5h1M357 102.5h1M358 102.5h1M359 102.5h1M360 102.5h1M361 102.5h1M362 102.5h1M363 102.5h1M364 102.5h1M365 102.5h1M366 102.5h1M367 102.5h1M368 102.5h1M369 102.5h1M370 102.5h1M371 102.5h1M372 102.5h1M373 102.5h1M374 102.5h1M375 102.5h1M376 102.5h1M377 102.5h1M378 102.5h1M379 102.5h1M380 102.5h1M381 102.5h1M382 102.5h1M383 102.5h1M385 102.5h1M387 102.5h1M388 102.5h1M389 102.5h1M390 102.5h1M391 102.5h1M393 102.5h1M394 102.5h1M400 102.5h1M401 102.5h1M342 103.5h1M343 103.5h1M344 103.5h1M345 103.5h1M346 103.5h1M348 103.5h1M349 103.5h1M350 103.5h1M351 103.5h1M352 103.5h1M353 103.5h1M354 103.5h1M355 103.5h1M356 103.5h1M357 103.5h1M358 103.5h1M359 103.5h1M360 103.5h1M361 103.5h1M362 103.5h1M363 103.5h1M364 103.5h1M365 103.5h1M366 103.5h1M367 103.5h1M368 103.5h1M369 103.5h1M370 103.5h1M371 103.5h1M372 103.5h1M373 103.5h1M374 103.5h1M375 103.5h1M376 103.5h1M377 103.5h1M378 103.5h1M379 103.5h1M380 103.5h1M381 103.5h1M382 103.5h1M384 103.5h1M385 103.5h1M386 103.5h1M387 103.5h1M388 103.5h1M390 103.5h1M391 103.5h1M395 103.5h1M396 103.5h1M341 104.5h1M342 104.5h1M343 104.5h1M344 104.5h1M345 104.5h1M346 104.5h1M347 104.5h1M348 104.5h1M349 104.5h1M350 104.5h1M351 104.5h1M352 104.5h1M353 104.5h1M354 104.5h1M355 104.5h1M356 104.5h1M357 104.5h1M358 104.5h1M359 104.5h1M360 104.5h1M361 104.5h1M362 104.5h1M363 104.5h1M364 104.5h1M365 104.5h1M366 104.5h1M367 104.5h1M368 104.5h1M369 104.5h1M370 104.5h1M371 104.5h1M372 104.5h1M373 104.5h1M374 104.5h1M375 104.5h1M376 104.5h1M377 104.5h1M378 104.5h1M379 104.5h1M380 104.5h1M381 104.5h1M382 104.5h1M383 104.5h1M385 104.5h1M386 104.5h1M388 104.5h1M389 104.5h1M390 104.5h1M391 104.5h1M393 104.5h1M394 104.5h1M395 104.5h1M341 105.5h1M342 105.5h1M343 105.5h1M345 105.5h1M346 105.5h1M348 105.5h1M349 105.5h1M350 105.5h1M351 105.5h1M352 105.5h1M353 105.5h1M355 105.5h1M356 105.5h1M357 105.5h1M358 105.5h1M359 105.5h1M360 105.5h1M361 105.5h1M362 105.5h1M363 105.5h1M364 105.5h1M365 105.5h1M366 105.5h1M367 105.5h1M368 105.5h1M369 105.5h1M370 105.5h1M371 105.5h1M372 105.5h1M373 105.5h1M374 105.5h1M375 105.5h1M376 105.5h1M377 105.5h1M378 105.5h1M379 105.5h1M380 105.5h1M381 105.5h1M382 105.5h1M383 105.5h1M384 105.5h1M387 105.5h1M388 105.5h1M389 105.5h1M390 105.5h1M394 105.5h1M397 105.5h1M341 106.5h1M343 106.5h1M344 106.5h1M345 106.5h1M346 106.5h1M347 106.5h1M348 106.5h1M349 106.5h1M350 106.5h1M351 106.5h1M352 106.5h1M353 106.5h1M354 106.5h1M355 106.5h1M356 106.5h1M357 106.5h1M358 106.5h1M359 106.5h1M360 106.5h1M361 106.5h1M362 106.5h1M363 106.5h1M364 106.5h1M365 106.5h1M366 106.5h1M367 106.5h1M368 106.5h1M369 106.5h1M371 106.5h1M372 106.5h1M373 106.5h1M374 106.5h1M375 106.5h1M376 106.5h1M377 106.5h1M378 106.5h1M379 106.5h1M380 106.5h1M381 106.5h1M382 106.5h1M383 106.5h1M384 106.5h1M385 106.5h1M388 106.5h1M389 106.5h1M390 106.5h1M392 106.5h1M341 107.5h1M343 107.5h1M344 107.5h1M345 107.5h1M347 107.5h1M348 107.5h1M350 107.5h1M351 107.5h1M352 107.5h1M353 107.5h1M354 107.5h1M355 107.5h1M356 107.5h1M357 107.5h1M358 107.5h1M359 107.5h1M360 107.5h1M361 107.5h1M362 107.5h1M363 107.5h1M364 107.5h1M365 107.5h1M366 107.5h1M367 107.5h1M368 107.5h1M369 107.5h1M370 107.5h1M371 107.5h1M372 107.5h1M373 107.5h1M374 107.5h1M375 107.5h1M377 107.5h1M378 107.5h1M379 107.5h1M381 107.5h1M382 107.5h1M383 107.5h1M384 107.5h1M385 107.5h1M388 107.5h1M390 107.5h1M391 107.5h1M392 107.5h1M393 107.5h1M343 108.5h1M344 108.5h1M345 108.5h1M346 108.5h1M347 108.5h1M348 108.5h1M349 108.5h1M351 108.5h1M352 108.5h1M353 108.5h1M354 108.5h1M355 108.5h1M356 108.5h1M357 108.5h1M358 108.5h1M359 108.5h1M360 108.5h1M361 108.5h1M362 108.5h1M363 108.5h1M364 108.5h1M365 108.5h1M366 108.5h1M367 108.5h1M368 108.5h1M369 108.5h1M370 108.5h1M371 108.5h1M372 108.5h1M373 108.5h1M374 108.5h1M375 108.5h1M376 108.5h1M377 108.5h1M378 108.5h1M379 108.5h1M380 108.5h1M381 108.5h1M382 108.5h1M383 108.5h1M384 108.5h1M385 108.5h1M386 108.5h1M387 108.5h1M388 108.5h1M389 108.5h1M390 108.5h1M391 108.5h1M392 108.5h1M393 108.5h1M396 108.5h1M402 108.5h1M341 109.5h1M342 109.5h1M343 109.5h1M344 109.5h1M345 109.5h1M347 109.5h1M348 109.5h1M349 109.5h1M351 109.5h1M352 109.5h1M353 109.5h1M354 109.5h1M356 109.5h1M357 109.5h1M358 109.5h1M359 109.5h1M360 109.5h1M361 109.5h1M362 109.5h1M363 109.5h1M364 109.5h1M365 109.5h1M366 109.5h1M367 109.5h1M368 109.5h1M369 109.5h1M370 109.5h1M371 109.5h1M372 109.5h1M373 109.5h1M374 109.5h1M375 109.5h1M376 109.5h1M377 109.5h1M378 109.5h1M379 109.5h1M380 109.5h1M381 109.5h1M382 109.5h1M383 109.5h1M385 109.5h1M386 109.5h1M387 109.5h1M388 109.5h1M389 109.5h1M390 109.5h1M392 109.5h1M393 109.5h1M395 109.5h1M396 109.5h1M341 110.5h1M342 110.5h1M343 110.5h1M346 110.5h1M347 110.5h1M348 110.5h1M349 110.5h1M350 110.5h1M351 110.5h1M352 110.5h1M353 110.5h1M354 110.5h1M355 110.5h1M356 110.5h1M357 110.5h1M359 110.5h1M360 110.5h1M361 110.5h1M362 110.5h1M363 110.5h1M364 110.5h1M365 110.5h1M366 110.5h1M367 110.5h1M368 110.5h1M370 110.5h1M371 110.5h1M372 110.5h1M373 110.5h1M374 110.5h1M375 110.5h1M376 110.5h1M377 110.5h1M379 110.5h1M380 110.5h1M381 110.5h1M382 110.5h1M383 110.5h1M386 110.5h1M389 110.5h1M390 110.5h1M393 110.5h1M395 110.5h1M343 111.5h1M344 111.5h1M345 111.5h1M346 111.5h1M347 111.5h1M348 111.5h1M349 111.5h1M351 111.5h1M352 111.5h1M353 111.5h1M354 111.5h1M355 111.5h1M356 111.5h1M357 111.5h1M358 111.5h1M359 111.5h1M360 111.5h1M361 111.5h1M363 111.5h1M364 111.5h1M365 111.5h1M366 111.5h1M367 111.5h1M370 111.5h1M371 111.5h1M372 111.5h1M373 111.5h1M374 111.5h1M376 111.5h1M377 111.5h1M378 111.5h1M380 111.5h1M381 111.5h1M383 111.5h1M384 111.5h1M385 111.5h1M386 111.5h1M387 111.5h1M389 111.5h1M391 111.5h1M393 111.5h1M341 112.5h1M342 112.5h1M343 112.5h1M344 112.5h1M348 112.5h1M349 112.5h1M350 112.5h1M351 112.5h1M352 112.5h1M353 112.5h1M357 112.5h1M358 112.5h1M361 112.5h1M363 112.5h1M364 112.5h1M365 112.5h1M366 112.5h1M367 112.5h1M369 112.5h1M371 112.5h1M372 112.5h1M373 112.5h1M375 112.5h1M377 112.5h1M379 112.5h1M380 112.5h1M381 112.5h1M383 112.5h1M386 112.5h1M388 112.5h1M389 112.5h1M392 112.5h1M394 112.5h1M395 112.5h1M342 113.5h1M343 113.5h1M344 113.5h1M345 113.5h1M346 113.5h1M348 113.5h1M349 113.5h1M351 113.5h1M352 113.5h1M353 113.5h1M358 113.5h1M360 113.5h1M361 113.5h1M362 113.5h1M369 113.5h1M370 113.5h1M372 113.5h1M373 113.5h1M375 113.5h1M376 113.5h1M377 113.5h1M380 113.5h1M381 113.5h1M383 113.5h1M388 113.5h1M391 113.5h1M393 113.5h1M398 113.5h1M341 114.5h1M344 114.5h1M345 114.5h1M346 114.5h1M348 114.5h1M349 114.5h1M351 114.5h1M353 114.5h1M355 114.5h1M356 114.5h1M358 114.5h1M363 114.5h1M367 114.5h1M369 114.5h1M374 114.5h1M375 114.5h1M377 114.5h1M378 114.5h1M381 114.5h1M382 114.5h1M383 114.5h1M385 114.5h1M390 114.5h1M393 114.5h1M394 114.5h1M342 115.5h1M352 115.5h1M353 115.5h1M355 115.5h1M356 115.5h1M363 115.5h1M374 115.5h1M383 115.5h1M385 115.5h1M393 115.5h1" stroke="#111" stroke-width="1" fill="none" shape-rendering="crispEdges"/>
<path d="M339.0 116.50h-4.4M339.00 116.5v3.3000000000000003M339.0 110.77h-3.9M345.38 116.5v2.8M339.0 107.41h-3.9M349.11 116.5v2.8M339.0 105.03h-3.9M351.76 116.5v2.8M339.0 103.18h-3.9M353.82 116.5v2.8M339.0 101.68h-3.9M355.50 116.5v2.8M339.0 100.40h-3.9M356.92 116.5v2.8M339.0 99.30h-3.9M358.15 116.5v2.8M339.0 98.32h-3.9M359.23 116.5v2.8M339.0 97.45h-4.4M360.20 116.5v3.3000000000000003M339.0 91.72h-3.9M366.58 116.5v2.8M339.0 88.36h-3.9M370.31 116.5v2.8M339.0 85.98h-3.9M372.96 116.5v2.8M339.0 84.13h-3.9M375.02 116.5v2.8M339.0 82.63h-3.9M376.70 116.5v2.8M339.0 81.35h-3.9M378.12 116.5v2.8M339.0 80.25h-3.9M379.35 116.5v2.8M339.0 79.27h-3.9M380.43 116.5v2.8M339.0 78.40h-4.4M381.40 116.5v3.3000000000000003M339.0 72.67h-3.9M387.78 116.5v2.8M339.0 69.31h-3.9M391.51 116.5v2.8M339.0 66.93h-3.9M394.16 116.5v2.8M339.0 65.08h-3.9M396.22 116.5v2.8M339.0 63.58h-3.9M397.90 116.5v2.8M339.0 62.30h-3.9M399.32 116.5v2.8M339.0 61.20h-3.9M400.55 116.5v2.8M339.0 60.22h-3.9M401.63 116.5v2.8M339.0 59.35h-4.4M402.60 116.5v3.3000000000000003M339.0 53.62h-3.9M408.98 116.5v2.8M339.0 50.26h-3.9M412.71 116.5v2.8M339.0 47.88h-3.9M415.36 116.5v2.8M339.0 46.03h-3.9M417.42 116.5v2.8M339.0 44.53h-3.9M419.10 116.5v2.8M339.0 43.25h-3.9M420.52 116.5v2.8M339.0 42.15h-3.9M421.75 116.5v2.8M339.0 41.17h-3.9M422.83 116.5v2.8M339.0 40.3h-4.4" stroke="#111" stroke-width="0.95" fill="none"/>
<rect x="339.0" y="40.3" width="84.80000000000001" height="76.2" fill="none" stroke="#111" stroke-width="1.25"/>
<line x1="365.5" y1="40.3" x2="365.5" y2="116.5" stroke="#222" stroke-width="1" shape-rendering="crispEdges"/>
<line x1="339.0" y1="92.5" x2="423.8" y2="92.5" stroke="#222" stroke-width="1" shape-rendering="crispEdges"/>
<text x="348.6" y="56.4" font-size="12.6" text-anchor="start">11</text>
<text x="416.0" y="56.4" font-size="12.6" text-anchor="end">9</text>
<text x="419.5" y="107.5" font-size="12.6" text-anchor="end">42</text>
<path d="M465 49.5h1M458 56.5h1M465 59.5h1M453 60.5h1M443 61.5h1M502 61.5h1M447 62.5h1M462 63.5h1M456 64.5h1M446 65.5h1M450 65.5h1M453 65.5h1M455 65.5h1M456 65.5h1M501 65.5h1M453 66.5h1M459 66.5h1M512 66.5h1M454 67.5h1M455 67.5h1M456 67.5h1M459 67.5h1M450 68.5h1M451 68.5h1M453 68.5h1M454 68.5h1M455 68.5h1M456 68.5h1M457 68.5h1M458 68.5h1M463 68.5h1M466 68.5h1M447 69.5h1M452 69.5h1M454 69.5h1M455 69.5h1M456 69.5h1M457 69.5h1M458 69.5h1M459 69.5h1M460 69.5h1M462 69.5h1M464 69.5h1M465 69.5h1M469 69.5h1M481 69.5h1M445 70.5h1M447 70.5h1M448 70.5h1M450 70.5h1M452 70.5h1M453 70.5h1M454 70.5h1M456 70.5h1M457 70.5h1M458 70.5h1M459 70.5h1M460 70.5h1M461 70.5h1M462 70.5h1M464 70.5h1M468 70.5h1M469 70.5h1M476 70.5h1M447 71.5h1M448 71.5h1M450 71.5h1M452 71.5h1M453 71.5h1M456 71.5h1M457 71.5h1M458 71.5h1M459 71.5h1M460 71.5h1M461 71.5h1M462 71.5h1M463 71.5h1M464 71.5h1M481 71.5h1M444 72.5h1M445 72.5h1M446 72.5h1M447 72.5h1M448 72.5h1M449 72.5h1M450 72.5h1M452 72.5h1M453 72.5h1M454 72.5h1M455 72.5h1M456 72.5h1M457 72.5h1M458 72.5h1M459 72.5h1M460 72.5h1M461 72.5h1M462 72.5h1M464 72.5h1M466 72.5h1M474 72.5h1M479 72.5h1M481 72.5h1M485 72.5h1M513 72.5h1M441 73.5h1M442 73.5h1M445 73.5h1M447 73.5h1M448 73.5h1M449 73.5h1M450 73.5h1M451 73.5h1M452 73.5h1M453 73.5h1M454 73.5h1M455 73.5h1M456 73.5h1M457 73.5h1M458 73.5h1M459 73.5h1M460 73.5h1M461 73.5h1M463 73.5h1M464 73.5h1M465 73.5h1M466 73.5h1M473 73.5h1M474 73.5h1M476 73.5h1M478 73.5h1M479 73.5h1M481 73.5h1M482 73.5h1M485 73.5h1M489 73.5h1M438 74.5h1M442 74.5h1M443 74.5h1M444 74.5h1M446 74.5h1M447 74.5h1M449 74.5h1M450 74.5h1M451 74.5h1M452 74.5h1M454 74.5h1M455 74.5h1M456 74.5h1M457 74.5h1M458 74.5h1M459 74.5h1M460 74.5h1M461 74.5h1M462 74.5h1M463 74.5h1M473 74.5h1M475 74.5h1M476 74.5h1M478 74.5h1M482 74.5h1M484 74.5h1M438 75.5h1M440 75.5h1M441 75.5h1M444 75.5h1M445 75.5h1M446 75.5h1M447 75.5h1M448 75.5h1M449 75.5h1M450 75.5h1M451 75.5h1M452 75.5h1M453 75.5h1M454 75.5h1M455 75.5h1M457 75.5h1M458 75.5h1M459 75.5h1M460 75.5h1M461 75.5h1M462 75.5h1M463 75.5h1M464 75.5h1M466 75.5h1M471 75.5h1M472 75.5h1M475 75.5h1M476 75.5h1M477 75.5h1M480 75.5h1M481 75.5h1M482 75.5h1M483 75.5h1M485 75.5h1M441 76.5h1M442 76.5h1M443 76.5h1M444 76.5h1M445 76.5h1M446 76.5h1M447 76.5h1M449 76.5h1M450 76.5h1M451 76.5h1M452 76.5h1M453 76.5h1M454 76.5h1M455 76.5h1M456 76.5h1M458 76.5h1M459 76.5h1M460 76.5h1M461 76.5h1M462 76.5h1M463 76.5h1M464 76.5h1M465 76.5h1M466 76.5h1M468 76.5h1M469 76.5h1M471 76.5h1M474 76.5h1M475 76.5h1M478 76.5h1M479 76.5h1M480 76.5h1M481 76.5h1M482 76.5h1M483 76.5h1M484 76.5h1M485 76.5h1M443 77.5h1M444 77.5h1M446 77.5h1M447 77.5h1M448 77.5h1M449 77.5h1M450 77.5h1M451 77.5h1M453 77.5h1M454 77.5h1M456 77.5h1M457 77.5h1M458 77.5h1M459 77.5h1M460 77.5h1M461 77.5h1M463 77.5h1M464 77.5h1M465 77.5h1M467 77.5h1M468 77.5h1M471 77.5h1M473 77.5h1M476 77.5h1M480 77.5h1M481 77.5h1M482 77.5h1M483 77.5h1M485 77.5h1M487 77.5h1M443 78.5h1M445 78.5h1M446 78.5h1M447 78.5h1M448 78.5h1M452 78.5h1M453 78.5h1M455 78.5h1M456 78.5h1M457 78.5h1M458 78.5h1M459 78.5h1M460 78.5h1M461 78.5h1M462 78.5h1M463 78.5h1M464 78.5h1M465 78.5h1M466 78.5h1M467 78.5h1M468 78.5h1M473 78.5h1M476 78.5h1M477 78.5h1M479 78.5h1M480 78.5h1M482 78.5h1M483 78.5h1M484 78.5h1M487 78.5h1M489 78.5h1M441 79.5h1M442 79.5h1M443 79.5h1M444 79.5h1M445 79.5h1M446 79.5h1M447 79.5h1M448 79.5h1M449 79.5h1M450 79.5h1M451 79.5h1M452 79.5h1M453 79.5h1M454 79.5h1M455 79.5h1M456 79.5h1M457 79.5h1M458 79.5h1M459 79.5h1M460 79.5h1M461 79.5h1M462 79.5h1M463 79.5h1M466 79.5h1M467 79.5h1M469 79.5h1M471 79.5h1M473 79.5h1M474 79.5h1M475 79.5h1M477 79.5h1M478 79.5h1M479 79.5h1M480 79.5h1M482 79.5h1M484 79.5h1M486 79.5h1M487 79.5h1M488 79.5h1M441 80.5h1M442 80.5h1M443 80.5h1M444 80.5h1M445 80.5h1M446 80.5h1M448 80.5h1M449 80.5h1M450 80.5h1M451 80.5h1M452 80.5h1M453 80.5h1M454 80.5h1M455 80.5h1M456 80.5h1M457 80.5h1M458 80.5h1M459 80.5h1M460 80.5h1M461 80.5h1M462 80.5h1M463 80.5h1M464 80.5h1M466 80.5h1M467 80.5h1M468 80.5h1M470 80.5h1M471 80.5h1M472 80.5h1M476 80.5h1M478 80.5h1M479 80.5h1M485 80.5h1M486 80.5h1M488 80.5h1M441 81.5h1M442 81.5h1M443 81.5h1M444 81.5h1M445 81.5h1M446 81.5h1M447 81.5h1M448 81.5h1M449 81.5h1M450 81.5h1M451 81.5h1M452 81.5h1M453 81.5h1M454 81.5h1M455 81.5h1M456 81.5h1M457 81.5h1M459 81.5h1M460 81.5h1M461 81.5h1M462 81.5h1M463 81.5h1M464 81.5h1M465 81.5h1M466 81.5h1M467 81.5h1M468 81.5h1M469 81.5h1M472 81.5h1M474 81.5h1M475 81.5h1M476 81.5h1M477 81.5h1M480 81.5h1M481 81.5h1M483 81.5h1M484 81.5h1M486 81.5h1M487 81.5h1M439 82.5h1M443 82.5h1M444 82.5h1M445 82.5h1M446 82.5h1M447 82.5h1M448 82.5h1M449 82.5h1M450 82.5h1M451 82.5h1M452 82.5h1M453 82.5h1M454 82.5h1M455 82.5h1M456 82.5h1M457 82.5h1M458 82.5h1M459 82.5h1M460 82.5h1M461 82.5h1M462 82.5h1M467 82.5h1M469 82.5h1M471 82.5h1M472 82.5h1M473 82.5h1M474 82.5h1M475 82.5h1M476 82.5h1M479 82.5h1M480 82.5h1M481 82.5h1M483 82.5h1M485 82.5h1M486 82.5h1M443 83.5h1M446 83.5h1M447 83.5h1M449 83.5h1M450 83.5h1M451 83.5h1M452 83.5h1M453 83.5h1M454 83.5h1M455 83.5h1M456 83.5h1M457 83.5h1M458 83.5h1M459 83.5h1M460 83.5h1M462 83.5h1M463 83.5h1M464 83.5h1M467 83.5h1M469 83.5h1M471 83.5h1M472 83.5h1M473 83.5h1M474 83.5h1M475 83.5h1M477 83.5h1M480 83.5h1M481 83.5h1M482 83.5h1M483 83.5h1M484 83.5h1M485 83.5h1M486 83.5h1M488 83.5h1M441 84.5h1M442 84.5h1M443 84.5h1M444 84.5h1M445 84.5h1M446 84.5h1M447 84.5h1M448 84.5h1M449 84.5h1M450 84.5h1M451 84.5h1M452 84.5h1M453 84.5h1M454 84.5h1M455 84.5h1M456 84.5h1M457 84.5h1M458 84.5h1M459 84.5h1M460 84.5h1M461 84.5h1M463 84.5h1M464 84.5h1M466 84.5h1M468 84.5h1M469 84.5h1M470 84.5h1M472 84.5h1M475 84.5h1M476 84.5h1M479 84.5h1M480 84.5h1M481 84.5h1M482 84.5h1M483 84.5h1M490 84.5h1M438 85.5h1M440 85.5h1M445 85.5h1M447 85.5h1M448 85.5h1M449 85.5h1M450 85.5h1M451 85.5h1M452 85.5h1M453 85.5h1M454 85.5h1M455 85.5h1M456 85.5h1M457 85.5h1M458 85.5h1M459 85.5h1M460 85.5h1M464 85.5h1M466 85.5h1M467 85.5h1M468 85.5h1M471 85.5h1M472 85.5h1M473 85.5h1M475 85.5h1M477 85.5h1M478 85.5h1M483 85.5h1M484 85.5h1M442 86.5h1M443 86.5h1M444 86.5h1M446 86.5h1M447 86.5h1M449 86.5h1M450 86.5h1M451 86.5h1M453 86.5h1M454 86.5h1M455 86.5h1M456 86.5h1M457 86.5h1M458 86.5h1M459 86.5h1M461 86.5h1M462 86.5h1M463 86.5h1M465 86.5h1M468 86.5h1M472 86.5h1M473 86.5h1M474 86.5h1M476 86.5h1M477 86.5h1M478 86.5h1M479 86.5h1M480 86.5h1M481 86.5h1M482 86.5h1M484 86.5h1M485 86.5h1M444 87.5h1M445 87.5h1M447 87.5h1M448 87.5h1M449 87.5h1M450 87.5h1M451 87.5h1M453 87.5h1M454 87.5h1M455 87.5h1M456 87.5h1M457 87.5h1M458 87.5h1M459 87.5h1M460 87.5h1M461 87.5h1M462 87.5h1M464 87.5h1M465 87.5h1M466 87.5h1M467 87.5h1M468 87.5h1M469 87.5h1M473 87.5h1M476 87.5h1M477 87.5h1M478 87.5h1M481 87.5h1M482 87.5h1M483 87.5h1M440 88.5h1M445 88.5h1M446 88.5h1M447 88.5h1M448 88.5h1M452 88.5h1M453 88.5h1M454 88.5h1M456 88.5h1M457 88.5h1M459 88.5h1M460 88.5h1M462 88.5h1M466 88.5h1M473 88.5h1M474 88.5h1M475 88.5h1M478 88.5h1M479 88.5h1M480 88.5h1M483 88.5h1M445 89.5h1M446 89.5h1M447 89.5h1M450 89.5h1M451 89.5h1M452 89.5h1M453 89.5h1M454 89.5h1M456 89.5h1M460 89.5h1M464 89.5h1M471 89.5h1M473 89.5h1M474 89.5h1M477 89.5h1M478 89.5h1M482 89.5h1M483 89.5h1M444 90.5h1M446 90.5h1M447 90.5h1M449 90.5h1M450 90.5h1M452 90.5h1M453 90.5h1M455 90.5h1M456 90.5h1M457 90.5h1M460 90.5h1M463 90.5h1M465 90.5h1M470 90.5h1M471 90.5h1M476 90.5h1M477 90.5h1M447 91.5h1M450 91.5h1M452 91.5h1M462 91.5h1M464 91.5h1M468 91.5h1M473 91.5h1M474 91.5h1M477 91.5h1M479 91.5h1M480 91.5h1M495 91.5h1M445 92.5h1M449 92.5h1M453 92.5h1M454 92.5h1M457 92.5h1M459 92.5h1M461 92.5h1M464 92.5h1M465 92.5h1M469 92.5h1M473 92.5h1M476 92.5h1M478 92.5h1M441 93.5h1M445 93.5h1M446 93.5h1M450 93.5h1M452 93.5h1M456 93.5h1M457 93.5h1M460 93.5h1M463 93.5h1M466 93.5h1M468 93.5h1M470 93.5h1M472 93.5h1M477 93.5h1M484 93.5h1M507 93.5h1M448 94.5h1M449 94.5h1M452 94.5h1M454 94.5h1M458 94.5h1M460 94.5h1M462 94.5h1M465 94.5h1M471 94.5h1M473 94.5h1M474 94.5h1M475 94.5h1M481 94.5h1M482 94.5h1M440 95.5h1M448 95.5h1M449 95.5h1M450 95.5h1M452 95.5h1M453 95.5h1M454 95.5h1M457 95.5h1M458 95.5h1M464 95.5h1M465 95.5h1M468 95.5h1M470 95.5h1M471 95.5h1M472 95.5h1M473 95.5h1M476 95.5h1M477 95.5h1M478 95.5h1M481 95.5h1M482 95.5h1M440 96.5h1M444 96.5h1M446 96.5h1M448 96.5h1M449 96.5h1M450 96.5h1M451 96.5h1M452 96.5h1M453 96.5h1M454 96.5h1M455 96.5h1M456 96.5h1M457 96.5h1M459 96.5h1M460 96.5h1M461 96.5h1M462 96.5h1M466 96.5h1M468 96.5h1M469 96.5h1M470 96.5h1M471 96.5h1M472 96.5h1M473 96.5h1M474 96.5h1M475 96.5h1M476 96.5h1M477 96.5h1M478 96.5h1M479 96.5h1M480 96.5h1M481 96.5h1M441 97.5h1M444 97.5h1M448 97.5h1M452 97.5h1M453 97.5h1M454 97.5h1M455 97.5h1M456 97.5h1M457 97.5h1M459 97.5h1M460 97.5h1M461 97.5h1M463 97.5h1M464 97.5h1M465 97.5h1M466 97.5h1M467 97.5h1M468 97.5h1M469 97.5h1M470 97.5h1M471 97.5h1M472 97.5h1M473 97.5h1M474 97.5h1M475 97.5h1M476 97.5h1M478 97.5h1M479 97.5h1M480 97.5h1M481 97.5h1M482 97.5h1M445 98.5h1M446 98.5h1M448 98.5h1M450 98.5h1M451 98.5h1M453 98.5h1M454 98.5h1M455 98.5h1M456 98.5h1M457 98.5h1M459 98.5h1M461 98.5h1M462 98.5h1M464 98.5h1M466 98.5h1M467 98.5h1M468 98.5h1M470 98.5h1M471 98.5h1M473 98.5h1M474 98.5h1M475 98.5h1M476 98.5h1M477 98.5h1M479 98.5h1M481 98.5h1M440 99.5h1M441 99.5h1M443 99.5h1M447 99.5h1M448 99.5h1M449 99.5h1M450 99.5h1M451 99.5h1M452 99.5h1M453 99.5h1M454 99.5h1M455 99.5h1M457 99.5h1M458 99.5h1M459 99.5h1M460 99.5h1M461 99.5h1M462 99.5h1M463 99.5h1M464 99.5h1M465 99.5h1M466 99.5h1M467 99.5h1M468 99.5h1M469 99.5h1M470 99.5h1M471 99.5h1M472 99.5h1M473 99.5h1M474 99.5h1M475 99.5h1M476 99.5h1M477 99.5h1M478 99.5h1M479 99.5h1M480 99.5h1M481 99.5h1M482 99.5h1M483 99.5h1M443 100.5h1M444 100.5h1M445 100.5h1M446 100.5h1M447 100.5h1M448 100.5h1M450 100.5h1M451 100.5h1M452 100.5h1M453 100.5h1M455 100.5h1M456 100.5h1M457 100.5h1M458 100.5h1M459 100.5h1M460 100.5h1M461 100.5h1M462 100.5h1M463 100.5h1M464 100.5h1M465 100.5h1M466 100.5h1M467 100.5h1M468 100.5h1M469 100.5h1M470 100.5h1M471 100.5h1M472 100.5h1M473 100.5h1M474 100.5h1M475 100.5h1M476 100.5h1M477 100.5h1M480 100.5h1M482 100.5h1M438 101.5h1M446 101.5h1M447 101.5h1M448 101.5h1M449 101.5h1M450 101.5h1M451 101.5h1M452 101.5h1M453 101.5h1M454 101.5h1M455 101.5h1M456 101.5h1M457 101.5h1M458 101.5h1M459 101.5h1M460 101.5h1M461 101.5h1M462 101.5h1M463 101.5h1M464 101.5h1M465 101.5h1M466 101.5h1M467 101.5h1M468 101.5h1M469 101.5h1M470 101.5h1M472 101.5h1M473 101.5h1M474 101.5h1M475 101.5h1M477 101.5h1M478 101.5h1M479 101.5h1M480 101.5h1M482 101.5h1M440 102.5h1M444 102.5h1M446 102.5h1M447 102.5h1M448 102.5h1M449 102.5h1M450 102.5h1M451 102.5h1M452 102.5h1M453 102.5h1M455 102.5h1M456 102.5h1M457 102.5h1M458 102.5h1M459 102.5h1M460 102.5h1M461 102.5h1M463 102.5h1M464 102.5h1M467 102.5h1M468 102.5h1M469 102.5h1M470 102.5h1M471 102.5h1M472 102.5h1M473 102.5h1M474 102.5h1M475 102.5h1M476 102.5h1M477 102.5h1M478 102.5h1M479 102.5h1M480 102.5h1M481 102.5h1M482 102.5h1M438 103.5h1M443 103.5h1M446 103.5h1M447 103.5h1M448 103.5h1M449 103.5h1M450 103.5h1M451 103.5h1M453 103.5h1M454 103.5h1M455 103.5h1M456 103.5h1M457 103.5h1M460 103.5h1M461 103.5h1M462 103.5h1M463 103.5h1M464 103.5h1M465 103.5h1M466 103.5h1M467 103.5h1M469 103.5h1M470 103.5h1M471 103.5h1M474 103.5h1M475 103.5h1M476 103.5h1M477 103.5h1M478 103.5h1M479 103.5h1M480 103.5h1M481 103.5h1M482 103.5h1M444 104.5h1M445 104.5h1M446 104.5h1M448 104.5h1M449 104.5h1M451 104.5h1M452 104.5h1M453 104.5h1M454 104.5h1M455 104.5h1M456 104.5h1M457 104.5h1M458 104.5h1M459 104.5h1M460 104.5h1M461 104.5h1M462 104.5h1M463 104.5h1M464 104.5h1M465 104.5h1M466 104.5h1M467 104.5h1M468 104.5h1M469 104.5h1M470 104.5h1M472 104.5h1M473 104.5h1M474 104.5h1M475 104.5h1M476 104.5h1M477 104.5h1M481 104.5h1M482 104.5h1M483 104.5h1M484 104.5h1M497 104.5h1M446 105.5h1M447 105.5h1M448 105.5h1M449 105.5h1M450 105.5h1M451 105.5h1M452 105.5h1M453 105.5h1M454 105.5h1M455 105.5h1M456 105.5h1M457 105.5h1M458 105.5h1M460 105.5h1M461 105.5h1M462 105.5h1M463 105.5h1M464 105.5h1M466 105.5h1M467 105.5h1M468 105.5h1M469 105.5h1M471 105.5h1M472 105.5h1M473 105.5h1M474 105.5h1M475 105.5h1M476 105.5h1M477 105.5h1M480 105.5h1M440 106.5h1M447 106.5h1M448 106.5h1M449 106.5h1M450 106.5h1M451 106.5h1M452 106.5h1M453 106.5h1M454 106.5h1M456 106.5h1M457 106.5h1M458 106.5h1M459 106.5h1M460 106.5h1M461 106.5h1M462 106.5h1M463 106.5h1M464 106.5h1M466 106.5h1M467 106.5h1M468 106.5h1M469 106.5h1M470 106.5h1M471 106.5h1M472 106.5h1M473 106.5h1M474 106.5h1M475 106.5h1M476 106.5h1M477 106.5h1M479 106.5h1M480 106.5h1M482 106.5h1M483 106.5h1M442 107.5h1M444 107.5h1M445 107.5h1M446 107.5h1M447 107.5h1M448 107.5h1M450 107.5h1M451 107.5h1M452 107.5h1M454 107.5h1M455 107.5h1M456 107.5h1M457 107.5h1M458 107.5h1M459 107.5h1M461 107.5h1M462 107.5h1M463 107.5h1M464 107.5h1M466 107.5h1M468 107.5h1M469 107.5h1M470 107.5h1M471 107.5h1M472 107.5h1M474 107.5h1M475 107.5h1M476 107.5h1M477 107.5h1M478 107.5h1M479 107.5h1M480 107.5h1M482 107.5h1M440 108.5h1M442 108.5h1M445 108.5h1M448 108.5h1M452 108.5h1M453 108.5h1M454 108.5h1M455 108.5h1M456 108.5h1M457 108.5h1M459 108.5h1M460 108.5h1M462 108.5h1M464 108.5h1M466 108.5h1M468 108.5h1M469 108.5h1M470 108.5h1M471 108.5h1M472 108.5h1M473 108.5h1M475 108.5h1M476 108.5h1M477 108.5h1M478 108.5h1M480 108.5h1M481 108.5h1M442 109.5h1M446 109.5h1M448 109.5h1M450 109.5h1M451 109.5h1M453 109.5h1M454 109.5h1M455 109.5h1M456 109.5h1M457 109.5h1M458 109.5h1M459 109.5h1M460 109.5h1M461 109.5h1M462 109.5h1M463 109.5h1M464 109.5h1M467 109.5h1M468 109.5h1M469 109.5h1M471 109.5h1M472 109.5h1M474 109.5h1M476 109.5h1M477 109.5h1M478 109.5h1M440 110.5h1M442 110.5h1M445 110.5h1M450 110.5h1M451 110.5h1M452 110.5h1M453 110.5h1M455 110.5h1M456 110.5h1M457 110.5h1M460 110.5h1M461 110.5h1M462 110.5h1M463 110.5h1M464 110.5h1M465 110.5h1M466 110.5h1M467 110.5h1M468 110.5h1M470 110.5h1M471 110.5h1M473 110.5h1M475 110.5h1M483 110.5h1M440 111.5h1M443 111.5h1M444 111.5h1M446 111.5h1M451 111.5h1M454 111.5h1M455 111.5h1M456 111.5h1M457 111.5h1M458 111.5h1M459 111.5h1M461 111.5h1M464 111.5h1M467 111.5h1M470 111.5h1M471 111.5h1M473 111.5h1M474 111.5h1M475 111.5h1M477 111.5h1M478 111.5h1M479 111.5h1M480 111.5h1M442 112.5h1M443 112.5h1M445 112.5h1M446 112.5h1M447 112.5h1M448 112.5h1M450 112.5h1M451 112.5h1M452 112.5h1M453 112.5h1M460 112.5h1M462 112.5h1M466 112.5h1M471 112.5h1M473 112.5h1M476 112.5h1M480 112.5h1M483 112.5h1M484 112.5h1M444 113.5h1M446 113.5h1M449 113.5h1M450 113.5h1M452 113.5h1M456 113.5h1M458 113.5h1M466 113.5h1M468 113.5h1M475 113.5h1M480 113.5h1M482 113.5h1M443 114.5h1M453 114.5h1M456 114.5h1M459 114.5h1M463 114.5h1M465 114.5h1M469 114.5h1M471 114.5h1M472 114.5h1M477 114.5h1M481 114.5h1M441 115.5h1M448 115.5h1M451 115.5h1M469 115.5h1M476 115.5h1M481 115.5h1M515 115.5h1" stroke="#111" stroke-width="1" fill="none" shape-rendering="crispEdges"/>
<path d="M434.4 116.50h-4.4M434.40 116.5v3.3000000000000003M434.4 110.73h-3.9M440.80 116.5v2.8M434.4 107.35h-3.9M444.54 116.5v2.8M434.4 104.96h-3.9M447.19 116.5v2.8M434.4 103.10h-3.9M449.25 116.5v2.8M434.4 101.58h-3.9M450.94 116.5v2.8M434.4 100.30h-3.9M452.36 116.5v2.8M434.4 99.18h-3.9M453.59 116.5v2.8M434.4 98.20h-3.9M454.68 116.5v2.8M434.4 97.33h-4.4M455.65 116.5v3.3000000000000003M434.4 91.55h-3.9M462.05 116.5v2.8M434.4 88.18h-3.9M465.79 116.5v2.8M434.4 85.78h-3.9M468.44 116.5v2.8M434.4 83.92h-3.9M470.50 116.5v2.8M434.4 82.40h-3.9M472.19 116.5v2.8M434.4 81.12h-3.9M473.61 116.5v2.8M434.4 80.01h-3.9M474.84 116.5v2.8M434.4 79.03h-3.9M475.93 116.5v2.8M434.4 78.15h-4.4M476.90 116.5v3.3000000000000003M434.4 72.38h-3.9M483.30 116.5v2.8M434.4 69.00h-3.9M487.04 116.5v2.8M434.4 66.61h-3.9M489.69 116.5v2.8M434.4 64.75h-3.9M491.75 116.5v2.8M434.4 63.23h-3.9M493.44 116.5v2.8M434.4 61.95h-3.9M494.86 116.5v2.8M434.4 60.83h-3.9M496.09 116.5v2.8M434.4 59.85h-3.9M497.18 116.5v2.8M434.4 58.97h-4.4M498.15 116.5v3.3000000000000003M434.4 53.20h-3.9M504.55 116.5v2.8M434.4 49.83h-3.9M508.29 116.5v2.8M434.4 47.43h-3.9M510.94 116.5v2.8M434.4 45.57h-3.9M513.00 116.5v2.8M434.4 44.05h-3.9M514.69 116.5v2.8M434.4 42.77h-3.9M516.11 116.5v2.8M434.4 41.66h-3.9M517.34 116.5v2.8M434.4 40.68h-3.9M518.43 116.5v2.8M434.4 39.8h-4.4" stroke="#111" stroke-width="0.95" fill="none"/>
<rect x="434.4" y="39.8" width="85.0" height="76.7" fill="none" stroke="#111" stroke-width="1.25"/>
<line x1="460.5" y1="39.8" x2="460.5" y2="116.5" stroke="#222" stroke-width="1" shape-rendering="crispEdges"/>
<line x1="434.4" y1="92.5" x2="519.4" y2="92.5" stroke="#222" stroke-width="1" shape-rendering="crispEdges"/>
<text x="442.5" y="55.4" font-size="12.6" text-anchor="start">42</text>
<text x="514.5" y="55.4" font-size="12.6" text-anchor="end">14</text>
<text x="517.0" y="106.2" font-size="12.6" text-anchor="end">23</text>
<text x="284.9" y="31.9" font-size="14.9" text-anchor="middle">None</text>
<text x="354.6" y="29.3" font-size="14.2">DC<tspan font-size="9.6" dy="4.5">control</tspan></text>
<text x="455.2" y="27.9" font-size="14.2">DC<tspan font-size="9.4" dy="3.8">VIP</tspan></text>
<path d="M235.2 78V126.6H320" stroke="#111" stroke-width="1.3" fill="none"/>
<polygon points="235.2,64.8 237.6,81.4 232.8,81.4" fill="#111"/>
<polygon points="334.6,126.6 318.4,129.0 318.4,124.2" fill="#111"/>
<text transform="translate(228.3,116.4) rotate(-90)" font-size="14.4">CD44</text>
<text x="248.3" y="146.9" font-size="14.7">CD62L</text>
</svg></body></html>
